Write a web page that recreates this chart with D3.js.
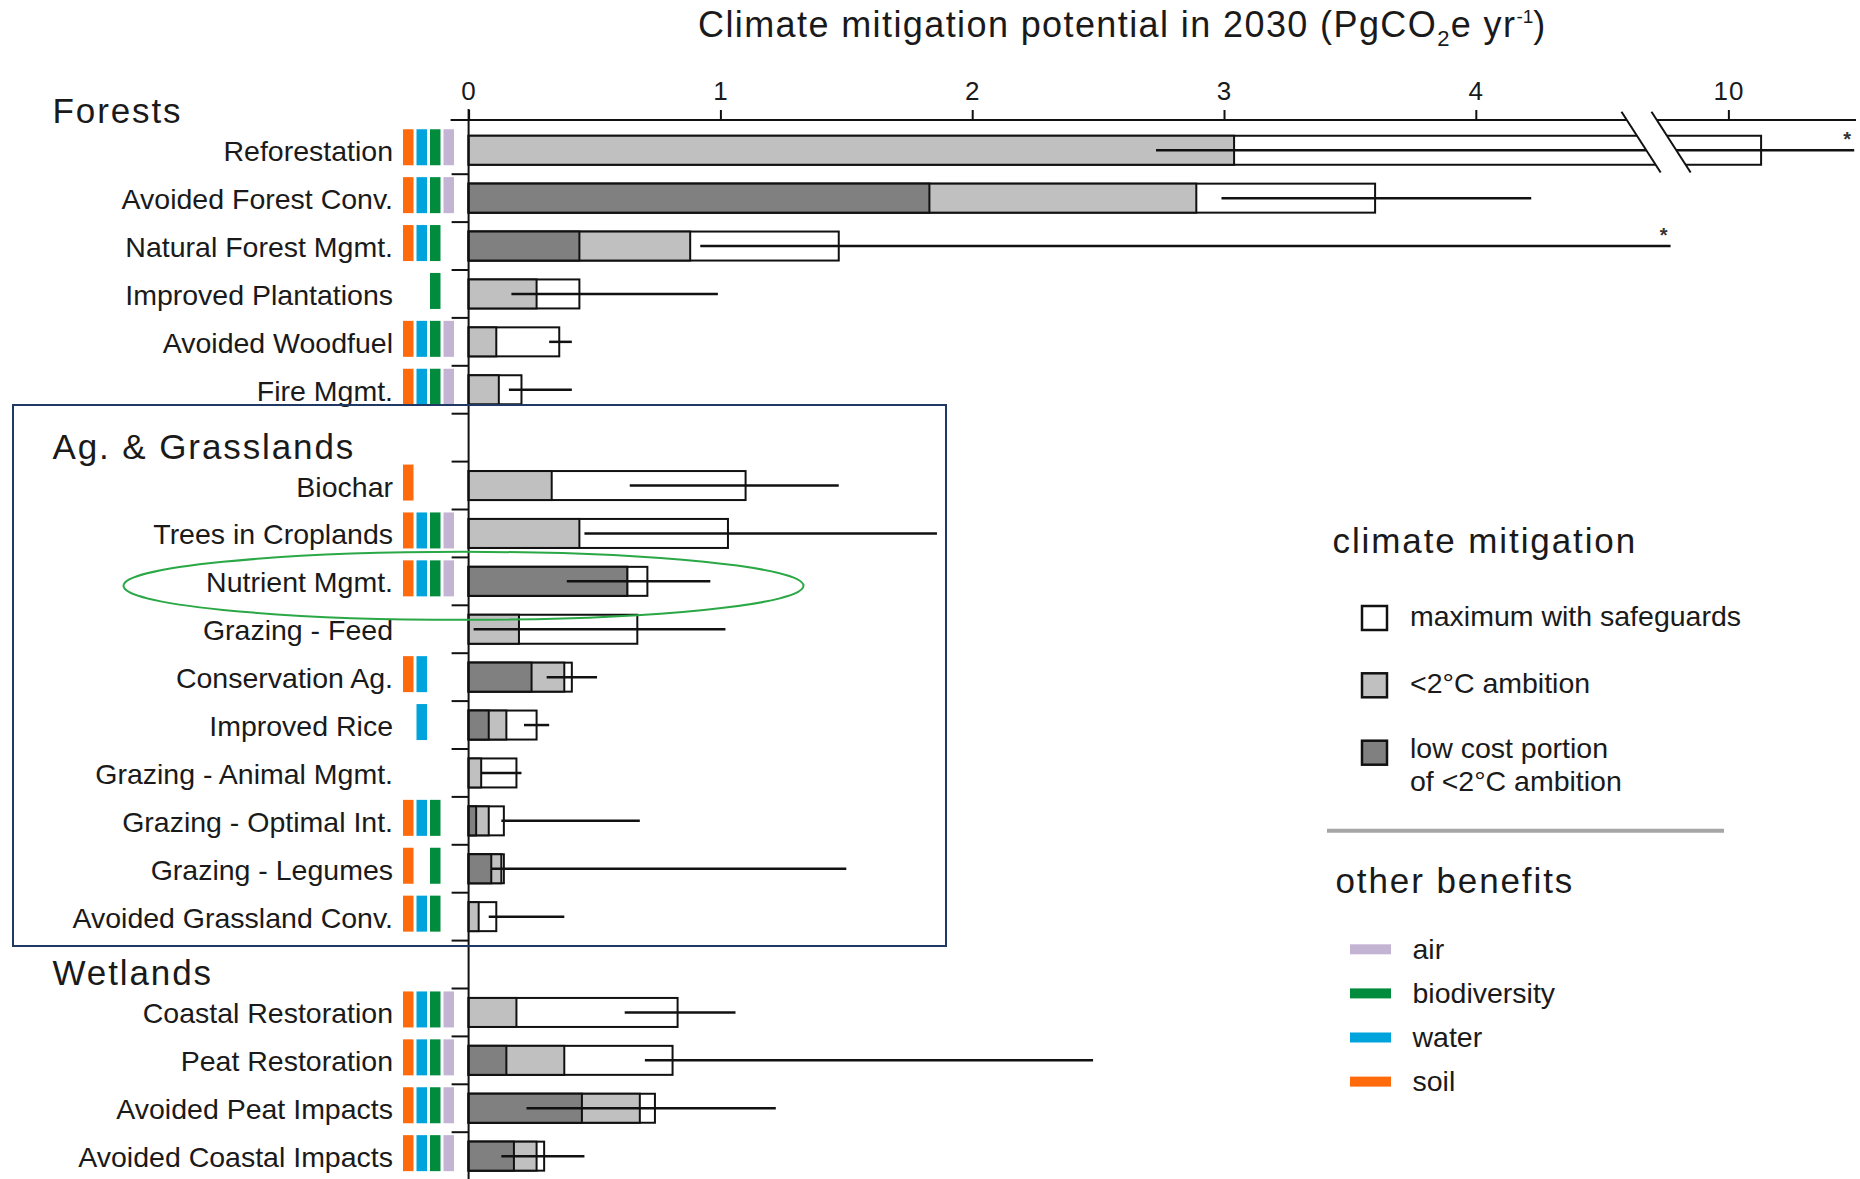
<!DOCTYPE html>
<html>
<head>
<meta charset="utf-8">
<script src="https://cdn.jsdelivr.net/npm/d3@7"></script>
<style>
body{margin:0;background:#fff;}
svg{font-family:"Liberation Sans", Arial, Helvetica, sans-serif;}
</style>
</head>
<body>
<div id="container"></div>
<script>
let w = 1860;
let h = 1179;

// data (PgCO2e / yr)
let groupNames = ["Forests", "Ag. & Grasslands", "Wetlands"];
let pathways = ["Reforestation", "Avoided Forest Conv.", "Natural Forest Mgmt.", "Improved Plantations",
  "Avoided Woodfuel", "Fire Mgmt.",
  "Biochar", "Trees in Croplands", "Nutrient Mgmt.", "Grazing - Feed", "Conservation Ag.", "Improved Rice",
  "Grazing - Animal Mgmt.", "Grazing - Optimal Int.", "Grazing - Legumes", "Avoided Grassland Conv.",
  "Coastal Restoration", "Peat Restoration", "Avoided Peat Impacts", "Avoided Coastal Impacts"];
let pathwayGroup = [0,0,0,0,0,0, 1,1,1,1,1,1,1,1,1,1, 2,2,2,2];
let lowCost  = [0, 1.83, 0.44, 0, 0, 0,   0, 0, 0.63, 0, 0.25, 0.08, 0, 0.03, 0.09, 0,   0, 0.15, 0.45, 0.18];
let ambition = [3.04, 2.89, 0.88, 0.27, 0.11, 0.12,   0.33, 0.44, 0.63, 0.20, 0.38, 0.15, 0.05, 0.08, 0.13, 0.04,   0.19, 0.38, 0.68, 0.27];
let maxSafe  = [10.13, 3.60, 1.47, 0.44, 0.36, 0.21,   1.10, 1.03, 0.71, 0.67, 0.41, 0.27, 0.19, 0.14, 0.14, 0.11,   0.83, 0.81, 0.74, 0.30];
let errLow   = [2.73, 2.99, 0.92, 0.17, 0.32, 0.16,   0.64, 0.46, 0.39, 0.02, 0.31, 0.22, 0.05, 0.13, 0.09, 0.08,   0.62, 0.70, 0.23, 0.13];
let errHigh  = [10.5, 4.22, 9.7, 0.99, 0.41, 0.41,   1.47, 1.86, 0.96, 1.02, 0.51, 0.32, 0.21, 0.68, 1.50, 0.38,   1.06, 2.48, 1.22, 0.46];
let offScale = [true, false, true, false, false, false,   false,false,false,false,false,false,false,false,false,false,   false,false,false,false];
// s = soil, w = water, b = biodiversity, a = air
let benefitCodes = ["swba", "swba", "swb", "b", "swba", "swba",
  "s", "swba", "swba", "", "sw", "w", "", "swb", "sb", "swb",
  "swba", "swba", "swba", "swba"];
let benefitKeys = ["s", "w", "b", "a"];
let benefitColors = {s: "#ff6a0d", w: "#00a4dc", b: "#008c3c", a: "#c4b4d4"};
let tickValues = [0, 1, 2, 3, 4, 10];
let legendBarLabels = [["maximum with safeguards"], ["<2°C ambition"], ["low cost portion", "of <2°C ambition"]];
let legendBarFills = ["#ffffff", "#c0c0c0", "#808080"];
let legendBenefitLabels = ["air", "biodiversity", "water", "soil"];
let legendBenefitKeys = ["a", "b", "w", "s"];

let viz = d3.select("#container").append("svg")
  .attr("width", w)
  .attr("height", h)
  .style("background-color", "white");

// rows, with an empty row between groups
let rows = [];
let rowKeys = [];
for (let i = 0; i < pathways.length; i++) {
  if (i > 0 && pathwayGroup[i] != pathwayGroup[i-1]) {
    rowKeys.push("gap" + pathwayGroup[i]);
  }
  rowKeys.push(pathways[i]);
  rows.push({
    name: pathways[i], group: pathwayGroup[i], low: lowCost[i], amb: ambition[i], max: maxSafe[i],
    lo: errLow[i], hi: errHigh[i], star: offScale[i], ben: benefitCodes[i]
  });
}

let step = 47.9;
let yTop = 126.3;
let y = d3.scaleBand().domain(rowKeys).range([yTop, yTop + step * rowKeys.length]);
let cy = function(name){ return y(name) + y.bandwidth() / 2; };

// broken x axis: 0..~4.66 | break | ~9.77..10.5
let x = d3.scaleLinear().domain([0, 4.656, 9.772, 10.523]).range([468.6, 1641, 1671, 1860]);

let barH = 29;
let ink = "#111";
let txt = "#1a1a1a";

// bars
let layers = [
  {key: "max", fill: "#ffffff"},
  {key: "amb", fill: "#c0c0c0"},
  {key: "low", fill: "#808080"}
];
layers.forEach(function(layer){
  viz.selectAll(".bar-" + layer.key).data(rows.filter(function(d){ return d[layer.key] > 0; })).enter()
    .append("rect")
    .attr("class", "bar-" + layer.key)
    .attr("x", x(0))
    .attr("y", function(d){ return cy(d.name) - barH / 2; })
    .attr("width", function(d){ return x(d[layer.key]) - x(0); })
    .attr("height", barH)
    .attr("fill", layer.fill)
    .attr("stroke", ink)
    .attr("stroke-width", 2);
});

// ranges
viz.selectAll(".err").data(rows).enter()
  .append("line")
  .attr("class", "err")
  .attr("x1", function(d){ return x(d.lo); })
  .attr("x2", function(d){ return x(d.hi); })
  .attr("y1", function(d){ return cy(d.name); })
  .attr("y2", function(d){ return cy(d.name); })
  .attr("stroke", ink)
  .attr("stroke-width", 2.5);

viz.selectAll(".star").data(rows.filter(function(d){ return d.star; })).enter()
  .append("text")
  .attr("class", "star")
  .attr("x", function(d){ return x(d.hi) - 7; })
  .attr("y", function(d){ return cy(d.name) - 4; })
  .attr("font-size", 20)
  .attr("font-weight", "bold")
  .attr("fill", "#333")
  .attr("text-anchor", "middle")
  .text("*");

// x axis on top
let axisY = 120;
let xAxis = d3.axisTop(x).tickValues(tickValues).tickSize(10).tickPadding(10).tickFormat(d3.format("d"));
let xAxisGroup = viz.append("g").attr("transform", "translate(0," + axisY + ")").call(xAxis);
xAxisGroup.select(".domain").remove();
xAxisGroup.selectAll(".tick line").attr("stroke", ink).attr("stroke-width", 2);
xAxisGroup.selectAll(".tick text")
  .attr("fill", txt)
  .attr("font-size", 26)
  .attr("letter-spacing", 1)
  .attr("font-family", "Liberation Sans, Arial, sans-serif");
viz.append("line")
  .attr("x1", x(0) - 18).attr("x2", 1856)
  .attr("y1", axisY).attr("y2", axisY)
  .attr("stroke", ink).attr("stroke-width", 2);

// axis break
let slope = 0.644;
let bx1 = x(4.656);
let bx2 = x(9.772);
let bMid = 142, bTop = 111.7, bBot = 172.5;
viz.append("polygon")
  .attr("points", [
    [bx1 - slope * (bMid - bTop), bTop], [bx2 - slope * (bMid - bTop), bTop],
    [bx2 + slope * (bBot - bMid), bBot], [bx1 + slope * (bBot - bMid), bBot]
  ].map(function(p){ return p.join(","); }).join(" "))
  .attr("fill", "white");
[bx1, bx2].forEach(function(bx){
  viz.append("line")
    .attr("x1", bx - slope * (bMid - bTop)).attr("y1", bTop)
    .attr("x2", bx + slope * (bBot - bMid)).attr("y2", bBot)
    .attr("stroke", ink).attr("stroke-width", 2);
});

// y axis line and row ticks
viz.append("line")
  .attr("x1", x(0)).attr("x2", x(0))
  .attr("y1", 109).attr("y2", h)
  .attr("stroke", ink).attr("stroke-width", 2);
viz.selectAll(".ytick").data(rowKeys.slice(0, rowKeys.length - 1)).enter()
  .append("line")
  .attr("class", "ytick")
  .attr("x1", x(0) - 17).attr("x2", x(0))
  .attr("y1", function(d){ return y(d) + y.bandwidth(); })
  .attr("y2", function(d){ return y(d) + y.bandwidth(); })
  .attr("stroke", ink).attr("stroke-width", 2);

// row labels
viz.selectAll(".label").data(rows).enter()
  .append("text")
  .attr("class", "label")
  .attr("x", 393)
  .attr("y", function(d){ return cy(d.name) + 11; })
  .attr("text-anchor", "end")
  .attr("font-size", 28.5)
  .attr("fill", txt)
  .text(function(d){ return d.name; });

// group headers
groupNames.forEach(function(g, gi){
  let first = rows.find(function(d){ return d.group == gi; });
  viz.append("text")
    .attr("x", 52.5)
    .attr("y", cy(first.name) - 27)
    .attr("font-size", 35)
    .attr("letter-spacing", 1.9)
    .attr("fill", txt)
    .text(g);
});

// benefit bars
let bx = d3.scaleBand().domain(benefitKeys).range([403, 454]).paddingInner(0.222);
rows.forEach(function(d){
  let codes = d.ben.split("");
  viz.selectAll(null).data(codes).enter()
    .append("rect")
    .attr("x", function(c){ return bx(c); })
    .attr("y", cy(d.name) - 21)
    .attr("width", bx.bandwidth())
    .attr("height", 36)
    .attr("fill", function(c){ return benefitColors[c]; });
});

// title
let title = viz.append("text")
  .attr("x", 698)
  .attr("y", 37)
  .attr("font-size", 36)
  .attr("letter-spacing", 1.4)
  .attr("fill", txt);
title.append("tspan").text("Climate mitigation potential in 2030 (PgCO");
title.append("tspan").attr("dy", 9).attr("font-size", 22).text("2");
title.append("tspan").attr("dy", -9).text("e yr");
title.append("tspan").attr("dy", -14).attr("font-size", 19).attr("letter-spacing", 0).text("-1");
title.append("tspan").attr("dy", 14).text(")");

// Ag. & Grasslands frame and highlight
viz.append("rect")
  .attr("x", 13).attr("y", 405)
  .attr("width", 933).attr("height", 541)
  .attr("fill", "none")
  .attr("stroke", "#1f3864")
  .attr("stroke-width", 2);
viz.append("ellipse")
  .attr("cx", 463.5)
  .attr("cy", cy("Nutrient Mgmt.") + 4.5)
  .attr("rx", 340).attr("ry", 34)
  .attr("fill", "none")
  .attr("stroke", "#2aa845")
  .attr("stroke-width", 2);

// legend: climate mitigation
let legend = viz.append("g");
legend.append("text")
  .attr("x", 1332.5).attr("y", 553)
  .attr("font-size", 35).attr("letter-spacing", 1.9)
  .attr("fill", txt)
  .text("climate mitigation");
let legendTops = [606, 673.3, 740.7];
legendBarLabels.forEach(function(lines, i){
  legend.append("rect")
    .attr("x", 1362).attr("y", legendTops[i])
    .attr("width", 25).attr("height", 24)
    .attr("fill", legendBarFills[i])
    .attr("stroke", ink).attr("stroke-width", 2.5);
  lines.forEach(function(line, j){
    legend.append("text")
      .attr("x", 1410)
      .attr("y", legendTops[i] + 20 - (lines.length > 1 ? 3 : 0) + j * 33.4)
      .attr("font-size", 28.5)
      .attr("fill", txt)
      .text(line);
  });
});
legend.append("line")
  .attr("x1", 1327).attr("x2", 1724)
  .attr("y1", 830.7).attr("y2", 830.7)
  .attr("stroke", "#a6a6a6").attr("stroke-width", 4);

// legend: other benefits
legend.append("text")
  .attr("x", 1335.5).attr("y", 892.5)
  .attr("font-size", 35).attr("letter-spacing", 1.9)
  .attr("fill", txt)
  .text("other benefits");
legendBenefitLabels.forEach(function(lab, i){
  let ly = 949.3 + i * 44.1;
  legend.append("rect")
    .attr("x", 1350).attr("y", ly - 5)
    .attr("width", 41).attr("height", 10)
    .attr("fill", benefitColors[legendBenefitKeys[i]]);
  legend.append("text")
    .attr("x", 1412.5).attr("y", ly + 9.5)
    .attr("font-size", 28.5)
    .attr("fill", txt)
    .text(lab);
});
</script>
</body>
</html>
